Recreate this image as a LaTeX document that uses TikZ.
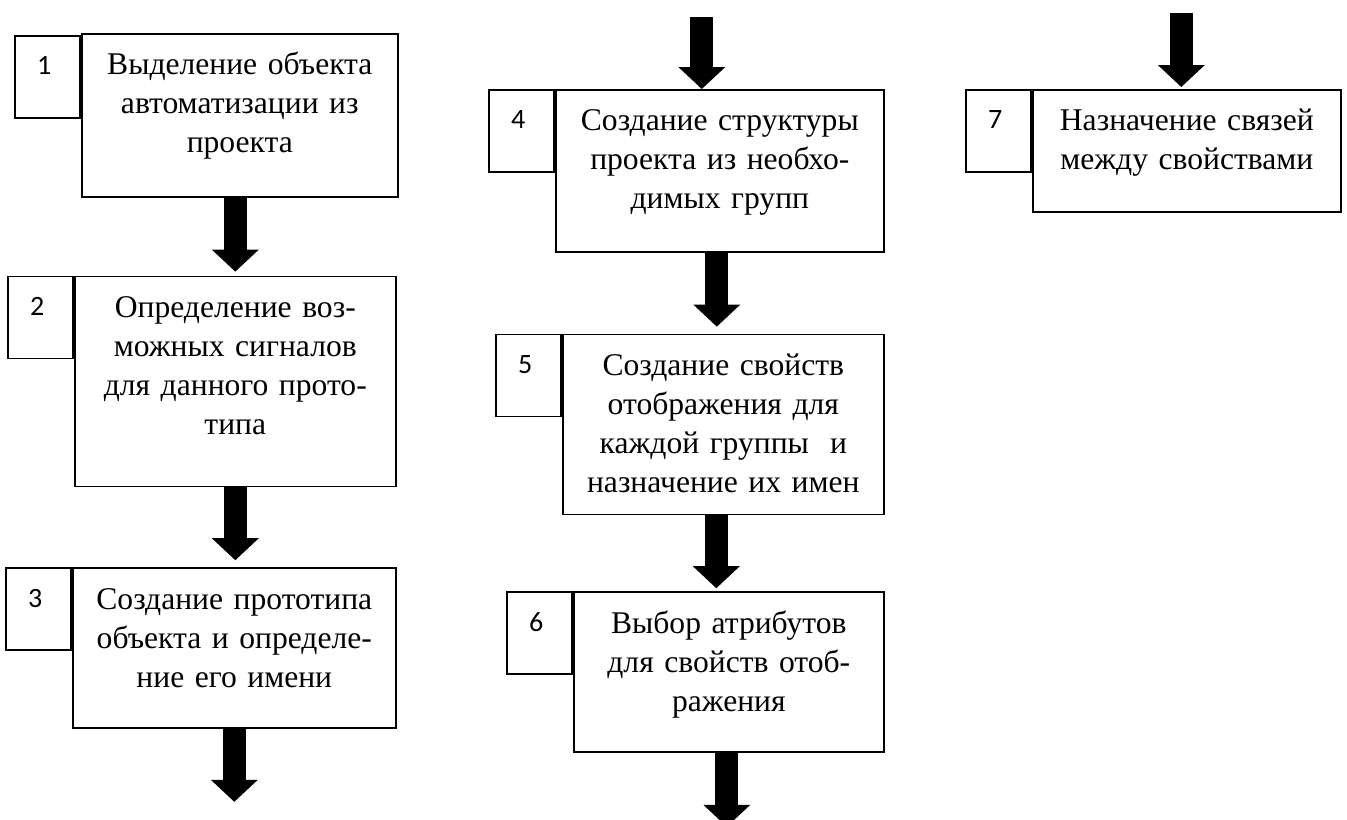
\documentclass[tikz,border=0pt]{standalone}
\usepackage{fontspec}
\setmainfont{Liberation Serif}
\newfontfamily\numfont{Carlito}
\usetikzlibrary{positioning,arrows.meta}

\begin{document}
\begin{tikzpicture}[
  x=0.5pt,y=-0.5pt,
  every node/.style={font=\fontsize{15.8}{19.5}\selectfont},
  stepbox/.style={draw,line width=0.8pt,align=center,text width=150pt,inner sep=0pt,text height=20.5pt},
  numbox/.style={draw,line width=0.8pt,font=\numfont\fontsize{14}{17}\selectfont,align=left,
    text width=10.5pt,inner xsep=11pt,inner ysep=0pt,text height=19.5pt,text depth=21.5pt},
  bigarrow/.style={line width=11.5pt,-{Triangle[width=23.5pt,length=11pt,line width=0pt]}},
  ]
  \useasboundingbox(0,0)rectangle(1347,819);
  % first column
  \node[stepbox,minimum width=158pt,text depth=61pt,anchor=north west](s1)at(81,33)
    {Выделение объекта\\автоматизации из\\проекта};
  \node[stepbox,minimum width=160.5pt,text depth=84.5pt,below left=39pt and 1pt of s1.south east](s2)
    {Определение воз-\\можных сигналов\\для данного прото-\\типа};
  \node[stepbox,minimum width=161.5pt,text depth=59.5pt,below left=40pt and 0pt of s2.south east](s3)
    {Создание прототипа\\объекта и определе-\\ние его имени};
  % second column
  \node[stepbox,minimum width=164pt,text depth=60.5pt,anchor=north west](s4)at(555,89)
    {Создание структуры\\проекта из необхо-\\димых групп};
  \node[stepbox,minimum width=160.5pt,text depth=69.5pt,below left=40.5pt and 0pt of s4.south east](s5)
    {Создание свойств\\отображения для\\каждой группы\ \ и\\назначение их имен};
  \node[stepbox,minimum width=155pt,text depth=59.5pt,below left=38pt and 0pt of s5.south east](s6)
    {Выбор атрибутов\\для свойств отоб-\\ражения};
  % third column
  \node[stepbox,minimum width=154pt,text depth=40.5pt,anchor=north west](s7)at(1032,89)
    {Назначение связей\\между свойствами};
  % step numbers
  \node[numbox,below left=1pt and 0pt of s1.north west](n1){1};
  \node[numbox,below left=0pt of s2.north west](n2){2};
  \node[numbox,below left=0pt of s3.north west](n3){3};
  \node[numbox,below left=0pt of s4.north west](n4){4};
  \node[numbox,below left=0pt of s5.north west](n5){5};
  \node[numbox,below left=0pt of s6.north west](n6){6};
  \node[numbox,below left=0pt of s7.north west](n7){7};
  % free arrow ends
  \coordinate[above=36pt of s4.north,xshift=-9pt](in4);
  \coordinate[above=38pt of s7.north,xshift=-2.75pt](in7);
  \coordinate[below=36.5pt of s3.south](out3);
  \coordinate[below=37pt of s6.south,xshift=-1pt](out6);
  % arrows
  \draw[bigarrow,shorten >=2pt](s1.south -| s2.north)--(s2.north);
  \draw[bigarrow,shorten >=3.5pt](s2.south)--(s2.south |- s3.north);
  \draw[bigarrow](s3.south)--(out3);
  \draw[bigarrow](in4)--(in4 |- s4.north);
  \draw[bigarrow,shorten >=3.5pt]([xshift=-1.5pt]s4.south)--([xshift=-1.5pt]s4.south |- s5.north);
  \draw[bigarrow,shorten >=1.5pt]([xshift=-3.5pt]s5.south)--([xshift=-3.5pt]s5.south |- s6.north);
  \draw[bigarrow]([xshift=-1pt]s6.south)--(out6);
  \draw[bigarrow,shorten >=1pt](in7)--(in7 |- s7.north);
\end{tikzpicture}
\end{document}
